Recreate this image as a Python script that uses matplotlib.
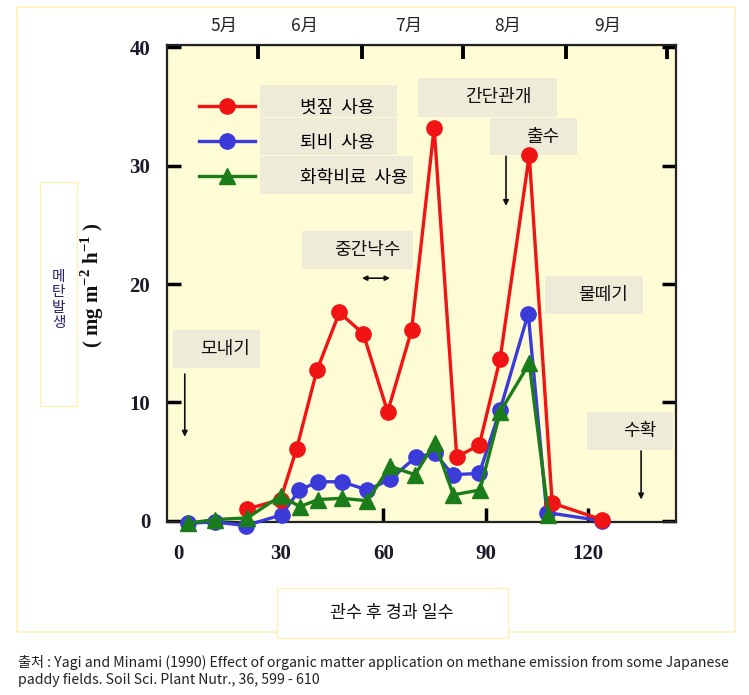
import numpy as np
import matplotlib.pyplot as plt
from matplotlib.lines import Line2D
from matplotlib.patches import Rectangle

plt.rcParams['mathtext.fontset'] = 'custom'
plt.rcParams['mathtext.rm'] = 'Liberation Serif:bold'
plt.rcParams['mathtext.bf'] = 'Liberation Serif:bold'

KR = ['Noto Sans CJK KR', 'DejaVu Sans']
SERIF = 'Liberation Serif'

# --- dados (dias após inundação, mg m-2 h-1) ---
dias_palha = [20.3, 30.0, 34.7, 40.6, 47.2, 54.2, 61.3, 68.3, 74.9, 81.5, 88.1, 94.2, 102.7, 109.4, 123.9]
val_palha = [1.0, 1.8, 6.1, 12.7, 17.6, 15.8, 9.2, 16.1, 33.2, 5.4, 6.4, 13.7, 30.9, 1.5, 0.1]

dias_composto = [2.8, 10.8, 19.9, 30.3, 35.5, 41.0, 47.9, 55.4, 62.0, 69.6, 75.1, 80.3, 88.1, 94.2, 102.4, 107.8, 123.9]
val_composto = [-0.2, -0.1, -0.4, 0.5, 2.6, 3.3, 3.3, 2.6, 3.5, 5.4, 5.7, 3.9, 4.0, 9.4, 17.5, 0.7, 0.0]

dias_quimico = [2.8, 10.8, 20.3, 30.0, 35.7, 41.0, 47.9, 55.4, 62.0, 69.3, 75.1, 80.5, 88.3, 94.2, 102.7, 108.3]
val_quimico = [-0.2, 0.1, 0.25, 2.1, 1.2, 1.8, 1.9, 1.7, 4.6, 3.9, 6.6, 2.2, 2.6, 9.2, 13.3, 0.5]

series_nomes = ['볏짚  사용', '퇴비  사용', '화학비료  사용']

x_ticks = [0, 30, 60, 90, 120]
y_ticks = [0, 10, 20, 30, 40]
meses = ['5月', '6月', '7月', '8月', '9月']
meses_pos = [13.5, 37.1, 67.5, 96.5, 125.7]
meses_ticks = [23.4, 53.8, 83.3, 113.5, 143.0]

# --- figura ---
W, H = 749, 695
fig = plt.figure(figsize=(W / 100, H / 100), dpi=100)
fig.patch.set_facecolor('white')


def fx(px):
    return px / W


def fy(py):
    return 1 - py / H


# moldura externa
fig.add_artist(Rectangle((fx(17), fy(632)), fx(735) - fx(17), fy(7) - fy(632),
                         transform=fig.transFigure, fill=False,
                         edgecolor='#fff0b8', lw=1.2, zorder=0))

ax = fig.add_axes([fx(167), fy(522), fx(676) - fx(167), fy(45) - fy(522)])
ax.set_facecolor('#fefcd4')

ax.plot(dias_composto, val_composto, color='#3b3bd9', lw=2.4, marker='o', ms=11,
        zorder=3, clip_on=False)
ax.plot(dias_palha, val_palha, color='#f01414', lw=2.4, marker='o', ms=11,
        zorder=4, clip_on=False)
ax.plot(dias_quimico, val_quimico, color='#1a7d1a', lw=2.4, marker='^', ms=12,
        zorder=5, clip_on=False)

ax.set_xlim(-3.2, 145.6)
ax.set_ylim(-0.1, 40.2)

ax.set_xticks(x_ticks)
ax.set_yticks(y_ticks)
ax.tick_params(axis='both', direction='in', length=10, width=2.5, color='black')
ax.tick_params(axis='y', right=True, pad=12)
ax.tick_params(axis='x', pad=16)
for t in ax.xaxis.get_major_ticks()[:2]:
    t.tick1line.set_visible(False)
for lab in ax.get_xticklabels() + ax.get_yticklabels():
    lab.set_fontfamily(SERIF)
    lab.set_fontweight('bold')
    lab.set_fontsize(15)
    lab.set_color('#1a1a2a')
for sp in ax.spines.values():
    sp.set_linewidth(1.6)
    sp.set_color('#222222')

top = ax.secondary_xaxis('top')
top.set_xticks(meses_ticks, labels=[''] * len(meses_ticks))
top.set_xticks(meses_pos, labels=meses, minor=True)
top.tick_params(which='major', direction='in', length=10, width=2.8, color='black')
top.tick_params(which='minor', length=0, pad=7)
for lab in top.get_xticklabels(minor=True):
    lab.set_fontfamily(KR)
    lab.set_fontsize(12.5)
    lab.set_color('#222222')

caixa_cor = '#eeecd8'


def caixa(x0, x1, y0, y1):
    ax.add_patch(Rectangle((x0, y0), x1 - x0, y1 - y0, facecolor=caixa_cor,
                           edgecolor='none', zorder=1))


# legenda
handles = [
    Line2D([0], [0], color='#f01414', lw=2.4, marker='o', ms=11),
    Line2D([0], [0], color='#3b3bd9', lw=2.4, marker='o', ms=11),
    Line2D([0], [0], color='#1a7d1a', lw=2.4, marker='^', ms=12),
]
caixa(24.0, 64.0, 34.1, 36.8)
caixa(24.0, 64.0, 30.9, 34.0)
caixa(24.0, 68.7, 27.6, 30.8)
leg = ax.legend(handles, series_nomes, loc='upper left', bbox_to_anchor=(0.062, 0.888),
                frameon=False, borderpad=0, borderaxespad=0, handlelength=3.1,
                handletextpad=2.5, labelspacing=0.95, numpoints=1,
                prop={'family': KR, 'size': 13})
leg.set_zorder(6)

# anotações
notas = [
    ('간단관개', 93.6, 35.8, (70.2, 110.8, 34.1, 37.4)),
    ('출수', 106.7, 32.4, (91.2, 116.7, 30.9, 34.0)),
    ('중간낙수', 55.3, 22.9, (36.3, 68.7, 21.3, 24.5)),
    ('물떼기', 124.3, 19.1, (107.3, 136.0, 17.5, 20.7)),
    ('모내기', 13.7, 14.5, (-1.5, 24.0, 12.9, 16.1)),
    ('수확', 135.1, 7.6, (119.6, 144.7, 6.0, 9.2)),
]
for txt, x, y, (bx0, bx1, by0, by1) in notas:
    caixa(bx0, bx1, by0, by1)
    ax.text(x, y, txt, ha='center', va='center', fontsize=13, family=KR,
            color='#111111', zorder=2)

setas = [((95.9, 30.8), (95.9, 26.6)), ((2.0, 12.4), (2.0, 7.1)), ((135.4, 5.9), (135.4, 1.8))]
for (x0, y0), (x1, y1) in setas:
    ax.annotate('', xy=(x1, y1), xytext=(x0, y0),
                arrowprops=dict(arrowstyle='-|>', color='#111111', lw=1.2,
                                mutation_scale=8, shrinkA=0, shrinkB=0), zorder=2)
ax.annotate('', xy=(62.0, 20.5), xytext=(53.8, 20.5),
            arrowprops=dict(arrowstyle='<|-|>', color='#111111', lw=1.2,
                            mutation_scale=7, shrinkA=0, shrinkB=0), zorder=2)

# rótulo do eixo y
fig.add_artist(Rectangle((fx(40), fy(406)), fx(77) - fx(40), fy(182) - fy(406),
                         transform=fig.transFigure, facecolor='white',
                         edgecolor='#fff0b8', lw=1.0))
fig.text(fx(58.5), fy(300), '메\n탄\n발\n생', ha='center', va='center', fontsize=10.5,
         family=KR, color='#2e1f6b', linespacing=1.1)
fig.text(fx(92), fy(285), r'( mg m$^{-2}$ h$^{-1}$ )', rotation=90, ha='center',
         va='center', fontsize=15, family=SERIF, fontweight='bold', color='#111111')

# rótulo do eixo x
fig.add_artist(Rectangle((fx(277), fy(638)), fx(508) - fx(277), fy(588) - fy(638),
                         transform=fig.transFigure, facecolor='white',
                         edgecolor='#fff0b8', lw=1.0))
fig.text(fx(392), fy(613), '관수 후 경과 일수', ha='center', va='center', fontsize=12.5,
         family=KR, color='#111111')

# fonte
fig.text(fx(18), fy(662), '출처 : Yagi and Minami (1990) Effect of organic matter application on '
         'methane emission from some Japanese', ha='left', va='center', fontsize=10.2,
         family=KR, color='#222222')
fig.text(fx(18), fy(680), 'paddy fields. Soil Sci. Plant Nutr., 36, 599 - 610', ha='left',
         va='center', fontsize=10.2, family=KR, color='#222222')

fig.savefig('out.png', dpi=100)
